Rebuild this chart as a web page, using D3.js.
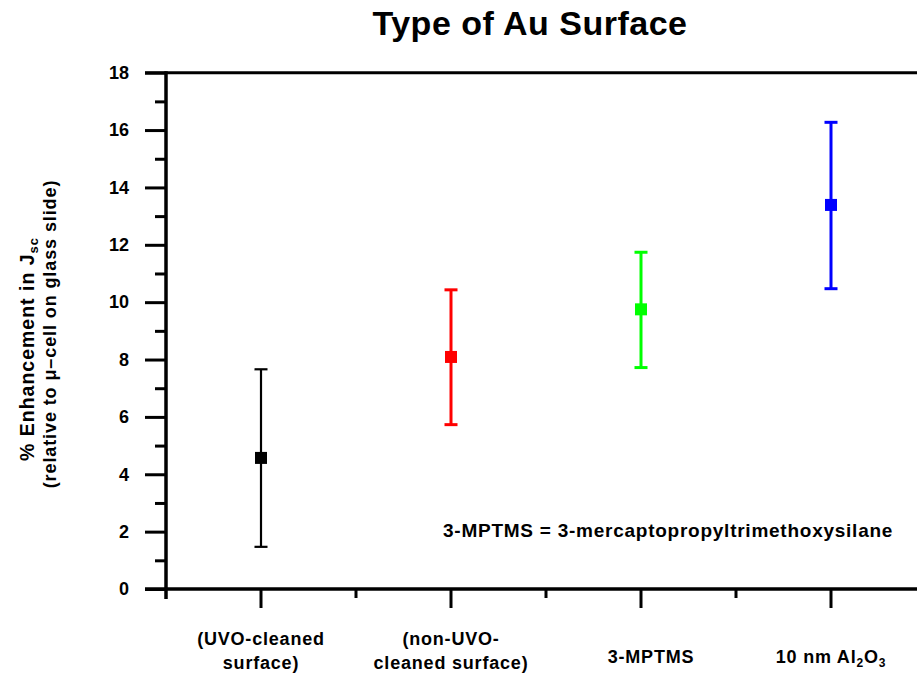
<!DOCTYPE html>
<html><head><meta charset="utf-8">
<script src="https://cdn.jsdelivr.net/npm/d3@7"></script>
<style>body{margin:0;background:#fff}text{font-family:"Liberation Sans",Arial,sans-serif;font-weight:bold}</style>
</head><body>
<svg id="c" width="917" height="679"></svg>
<script>
const categories = ["(UVO-cleaned|surface)", "(non-UVO-|cleaned surface)", "3-MPTMS", "10 nm Al2O3"];
const means = [4.57, 8.09, 9.75, 13.39];
const upper = [7.66, 10.43, 11.74, 16.27];
const lower = [1.47, 5.73, 7.72, 10.47];
const colors = ["#000000", "#ff0000", "#00ff00", "#0000ff"];
const yTicks = [0, 2, 4, 6, 8, 10, 12, 14, 16, 18];
const yMinorTicks = [1, 3, 5, 7, 9, 11, 13, 15, 17];

const svg = d3.select("#c");
const mLeft = 166, mTop = 72.7, mBottom = 589;
const y = d3.scaleLinear().domain([0, 18]).range([mBottom, mTop]);
const x = d3.scaleBand().domain(d3.range(categories.length)).range([mLeft, mLeft + 190 * 4]);

// title
svg.append("text").attr("x", 530).attr("y", 35).attr("text-anchor", "middle")
  .style("font-size", "34px").style("letter-spacing", "0.5px").text("Type of Au Surface");

// y axis
const yAxis = d3.axisLeft(y).tickValues(yTicks).tickSize(21).tickPadding(16).tickFormat(d3.format("d"));
const gy = svg.append("g").attr("transform", `translate(${mLeft},0)`).call(yAxis);
gy.select(".domain").remove();
gy.selectAll(".tick line").attr("stroke-width", 3);
gy.selectAll(".tick text").style("font-size", "18px").attr("font-family", null);
const yMinor = d3.axisLeft(y).tickValues(yMinorTicks).tickSize(11).tickFormat("");
const gym = svg.append("g").attr("transform", `translate(${mLeft},0)`).call(yMinor);
gym.select(".domain").remove();
gym.selectAll(".tick line").attr("stroke-width", 3);
svg.append("line").attr("x1", mLeft).attr("x2", mLeft).attr("y1", mTop - 1.5).attr("y2", mBottom + 10)
  .attr("stroke", "#000").attr("stroke-width", 3.5);
// top line
svg.append("line").attr("x1", 145).attr("x2", 917).attr("y1", y(18)).attr("y2", y(18))
  .attr("stroke", "#000").attr("stroke-width", 3);

// x axis
svg.append("line").attr("x1", 145).attr("x2", 917).attr("y1", mBottom).attr("y2", mBottom)
  .attr("stroke", "#000").attr("stroke-width", 3.5);
const xMajor = d3.axisBottom(x).tickSize(19).tickFormat("");
const gx = svg.append("g").attr("transform", `translate(0,${mBottom})`).call(xMajor);
gx.select(".domain").remove();
gx.selectAll(".tick line").attr("stroke-width", 3);
const minorPos = d3.range(1, categories.length).map(i => x(i));
svg.append("g").selectAll("line").data(minorPos).join("line")
  .attr("x1", d => d).attr("x2", d => d).attr("y1", mBottom).attr("y2", mBottom + 9)
  .attr("stroke", "#000").attr("stroke-width", 3);

// x labels
categories.forEach((c, i) => {
  const cx = x(i) + x.bandwidth() / 2;
  const lines = c.split("|");
  const t = svg.append("text").attr("text-anchor", "middle").style("font-size", "18px")
    .style("letter-spacing", "0.8px");
  if (c === "10 nm Al2O3") {
    const tt = t.attr("x", cx).attr("y", 663);
    tt.append("tspan").text("10 nm Al");
    tt.append("tspan").attr("dy", 4).style("font-size", "12px").text("2");
    tt.append("tspan").attr("dy", -4).text("O");
    tt.append("tspan").attr("dy", 4).style("font-size", "12px").text("3");
  } else if (lines.length === 1) {
    t.attr("x", cx + 10).attr("y", 663).text(lines[0]);
  } else {
    lines.forEach((l, j) => t.append("tspan").attr("x", cx).attr("y", 645 + j * 24).text(l));
  }
});

// y axis title
const yt = svg.append("text").attr("transform", "translate(34,349) rotate(-90)")
  .attr("text-anchor", "middle").style("font-size", "19.5px").style("letter-spacing", "1px");
yt.append("tspan").text("% Enhancement in J");
yt.append("tspan").attr("dy", 4).style("font-size", "13px").text("sc");
svg.append("text").attr("transform", "translate(56,334) rotate(-90)")
  .attr("text-anchor", "middle").style("font-size", "18px").style("letter-spacing", "0.9px")
  .text("(relative to \u03bc\u2013cell on glass slide)");

// annotation
svg.append("text").attr("x", 443).attr("y", 537).style("font-size", "19px").style("letter-spacing", "0.75px")
  .text("3-MPTMS = 3-mercaptopropyltrimethoxysilane");

// error bars & markers
const g = svg.append("g");
categories.forEach((c, i) => {
  const cx = x(i) + x.bandwidth() / 2;
  const sw = i === 0 ? 2.2 : 3;
  g.append("line").attr("x1", cx).attr("x2", cx).attr("y1", y(upper[i])).attr("y2", y(lower[i]))
    .attr("stroke", colors[i]).attr("stroke-width", sw);
  [upper[i], lower[i]].forEach(v => g.append("line").attr("x1", cx - 6.5).attr("x2", cx + 6.5)
    .attr("y1", y(v)).attr("y2", y(v)).attr("stroke", colors[i]).attr("stroke-width", sw));
  g.append("rect").attr("x", cx - 6).attr("y", y(means[i]) - 6).attr("width", 12).attr("height", 12)
    .attr("fill", colors[i]);
});
</script>
</body></html>
